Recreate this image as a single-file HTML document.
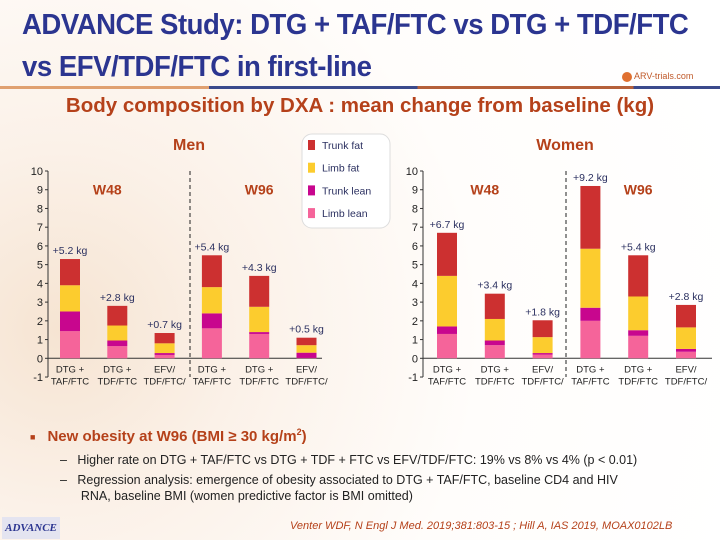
<!DOCTYPE html>
<html><head><meta charset="utf-8">
<style>
html,body{margin:0;padding:0;}
body{width:720px;height:540px;overflow:hidden;position:relative;font-family:"Liberation Sans",sans-serif;
background:radial-gradient(circle at 60px 330px,#f6e4d2 0,#fbf1e8 180px,#fffdfb 420px,#ffffff 700px);}
.t{position:absolute;}
</style></head>
<body>
<div class="t" style="left:22px;top:4px;font-size:29px;line-height:42px;font-weight:bold;color:#2b3590;white-space:nowrap;transform:scaleX(0.95);transform-origin:0 0;letter-spacing:-0.5px;">ADVANCE Study: DTG + TAF/FTC vs DTG + TDF/FTC<br>vs EFV/TDF/FTC in first-line</div>
<div class="t" style="left:0;top:86px;width:720px;height:3px;background:linear-gradient(90deg,#e0a070 0,#e0a070 29%,#3b4a8c 29%,#3b4a8c 58%,#b5603a 58%,#b5603a 88%,#3b4a8c 88%);"></div>
<div class="t" style="left:622px;top:71px;font-size:9px;color:#c05a2a;"><span style="display:inline-block;width:10px;height:10px;border-radius:5px;background:#e07030;vertical-align:middle;margin-right:2px"></span>ARV-trials.com</div>
<div class="t" style="left:0;width:720px;top:94px;text-align:center;font-size:20.5px;font-weight:bold;color:#b5411a;white-space:nowrap;">Body composition by DXA : mean change from baseline (kg)</div>

<svg id="chart" width="720" height="540" style="position:absolute;left:0;top:0"></svg>

<div class="t" style="left:30px;top:427px;font-size:15px;font-weight:bold;color:#b5411a;"><span style="font-size:9px;color:#b5411a;margin-right:12px;vertical-align:middle">■</span>New obesity at W96 (BMI ≥ 30 kg/m<sup style="font-size:9px">2</sup>)</div>
<div class="t" style="left:60px;top:453px;font-size:12.5px;color:#222;">–&nbsp;&nbsp;&nbsp;Higher rate on DTG + TAF/FTC vs DTG + TDF + FTC vs EFV/TDF/FTC: 19% vs 8% vs 4% (p &lt; 0.01)</div>
<div class="t" style="left:60px;top:472px;font-size:12.5px;line-height:16px;color:#222;">–&nbsp;&nbsp;&nbsp;Regression analysis: emergence of obesity associated to DTG + TAF/FTC, baseline CD4 and HIV<br>&nbsp;&nbsp;&nbsp;&nbsp;&nbsp;&nbsp;RNA, baseline BMI (women predictive factor is BMI omitted)</div>
<div class="t" style="left:2px;top:517px;width:58px;height:22px;background:#e4e4f0;font-family:'Liberation Serif',serif;font-style:italic;font-weight:bold;font-size:11px;color:#2b3590;text-align:center;line-height:22px;">ADVANCE</div>
<div class="t" style="left:290px;top:520px;font-size:11px;font-style:italic;color:#b5411a;">Venter WDF, N Engl J Med. 2019;381:803-15 ; Hill A, IAS 2019, MOAX0102LB</div>

<script>
const categories1 = ["DTG +", "DTG +", "EFV/", "DTG +", "DTG +", "EFV/"];
const categories2 = ["TAF/FTC", "TDF/FTC", "TDF/FTC/", "TAF/FTC", "TDF/FTC", "TDF/FTC/"];
const seriesNames = ["Limb lean", "Trunk lean", "Limb fat", "Trunk fat"];
const seriesColors = ["#f5649a", "#c8068e", "#fccc2e", "#cc3030"];
const menLimbLean = [1.45, 0.65, 0.18, 1.6, 1.3, 0.02];
const menTrunkLean = [1.05, 0.3, 0.1, 0.8, 0.1, 0.28];
const menLimbFat = [1.4, 0.8, 0.52, 1.4, 1.35, 0.4];
const menTrunkFat = [1.4, 1.05, 0.55, 1.7, 1.65, 0.4];
const menTotals = ["+5.2 kg", "+2.8 kg", "+0.7 kg", "+5.4 kg", "+4.3 kg", "+0.5 kg"];
const womenLimbLean = [1.3, 0.7, 0.2, 2.0, 1.2, 0.35];
const womenTrunkLean = [0.4, 0.25, 0.08, 0.7, 0.3, 0.15];
const womenLimbFat = [2.7, 1.15, 0.85, 3.15, 1.8, 1.15];
const womenTrunkFat = [2.3, 1.35, 0.9, 3.35, 2.2, 1.2];
const womenTotals = ["+6.7 kg", "+3.4 kg", "+1.8 kg", "+9.2 kg", "+5.4 kg", "+2.8 kg"];
const yTicks = [-1, 0, 1, 2, 3, 4, 5, 6, 7, 8, 9, 10];

const svg = document.getElementById('chart');
const NS = 'http://www.w3.org/2000/svg';
function mk(tag, attrs, text) {
  const e = document.createElementNS(NS, tag);
  for (const k in attrs) e.setAttribute(k, attrs[k]);
  if (text !== undefined) e.textContent = text;
  svg.appendChild(e);
  return e;
}

function drawPanel(p) {
  const y = v => p.y0 - v * (p.y0 - p.y10) / 10;
  const x = i => p.x0 + i * p.step;
  const ax = mk('line', {x1: p.axX, y1: y(10), x2: p.axX, y2: y(-1), stroke: '#333', 'stroke-width': 1});
  
  
  const xa = mk('line', {x1: p.axX, y1: y(0), x2: p.axEnd, y2: y(0), stroke: '#333', 'stroke-width': 1});
  
  
  yTicks.forEach(t => {
    const tk = mk('line', {x1: p.axX - 3, y1: y(t), x2: p.axX, y2: y(t), stroke: '#333'});
    
    
    const lb = mk('text', {x: p.axX - 5, y: y(t) + 4, 'text-anchor': 'end', 'font-size': 11, fill: '#222'}, String(t));
    
    
  });
  const dl = mk('line', {x1: p.divX, y1: y(10), x2: p.divX, y2: y(-1), stroke: '#222', 'stroke-dasharray': '4,3'});
  
  
  const w1 = mk('text', {x: x(1) - 10, y: y(9) + 5, 'text-anchor': 'middle', 'font-size': 14, 'font-weight': 'bold', fill: '#b5411a'}, 'W48');
  
  
  const w2 = mk('text', {x: x(4), y: y(9) + 5, 'text-anchor': 'middle', 'font-size': 14, 'font-weight': 'bold', fill: '#b5411a'}, 'W96');
  
  
  const series = [p.s0, p.s1, p.s2, p.s3];
  for (let i = 0; i < categories1.length; i++) {
    let base = 0;
    series.forEach((s, k) => {
      const v = s[i];
      const r = mk('rect', {x: x(i) - 10, y: y(base + v), width: 20, height: y(base) - y(base + v), fill: seriesColors[k]});
      
      
      base += v;
    });
    const tl = mk('text', {x: x(i), y: y(base) - 5, 'text-anchor': 'middle', 'font-size': 10.5, fill: '#2b3060'}, p.totals[i]);
    
    
    const c1 = mk('text', {x: x(i), y: y(0) + 14, 'text-anchor': 'middle', 'font-size': 9.5, fill: '#222'}, categories1[i]);
    
    
    const c2 = mk('text', {x: x(i), y: y(0) + 26, 'text-anchor': 'middle', 'font-size': 9.5, fill: '#222'}, categories2[i]);
    
    
  }
  const ttl = mk('text', {x: p.titleX, y: 150, 'text-anchor': 'middle', 'font-size': 16, 'font-weight': 'bold', fill: '#b5411a'}, p.title);
  
  
}

drawPanel({name: 'men', title: 'Men', titleX: 189, y0: 358.3, y10: 171, x0: 70, step: 47.3, axX: 48, axEnd: 322, divX: 190,
  s0: menLimbLean, s1: menTrunkLean, s2: menLimbFat, s3: menTrunkFat, totals: menTotals});
drawPanel({name: 'women', title: 'Women', titleX: 565, y0: 358.3, y10: 171, x0: 447, step: 47.8, axX: 423, axEnd: 712, divX: 566,
  s0: womenLimbLean, s1: womenTrunkLean, s2: womenLimbFat, s3: womenTrunkFat, totals: womenTotals});

const lg = mk('rect', {x: 302, y: 134, width: 88, height: 94, rx: 10, fill: '#fff', stroke: '#ddd'});


[3, 2, 1, 0].forEach((k, j) => {
  const yy = 145 + j * 22.7;
  const sw = mk('rect', {x: 308, y: yy - 5, width: 7, height: 10, fill: seriesColors[k]});
  
  
  const tx = mk('text', {x: 322, y: yy + 4, 'font-size': 10.5, fill: '#2b3060'}, seriesNames[k]);
  
  
});
</script>
</body></html>
